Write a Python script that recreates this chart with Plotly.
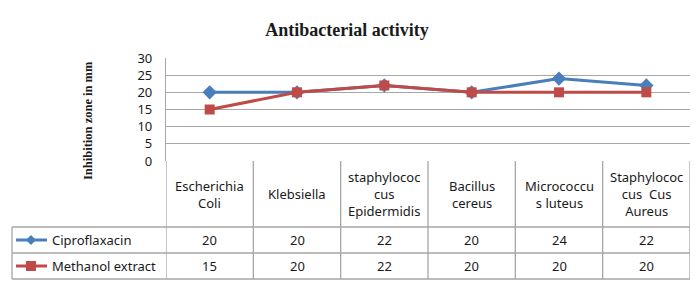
import plotly.graph_objects as go

# data
categories = ["Escherichia<br>Coli", "Klebsiella", "staphylococ<br>cus<br>Epidermidis",
              "Bacillus<br>cereus", "Micrococcu<br>s luteus", "Staphylococ<br>cus  Cus<br>Aureus"]
cipro = [20, 20, 22, 20, 24, 22]
methanol = [15, 20, 22, 20, 20, 20]
series_names = ["Ciproflaxacin", "Methanol extract"]

blue = "#4a7ebb"
red = "#be4b48"
grid = "#a6a6a6"
txt = "#1a1a1a"
table_font = dict(family="Noto Sans, Open Sans, sans-serif", size=13, color=txt)

# page body has an 8px margin, so reference pixel positions are shifted by OFF
OFF = 8
W, H = 700 - OFF, 293 - OFF
# plot area in reference pixels: x 166..690, y 58..161
L, R, T, B = 166, 690, 58, 161


def px(x):
    return (x - L) / (R - L)


def py(y):
    return (B - y) / (B - T)


xs = list(range(len(categories)))

fig = go.Figure()
fig.add_trace(go.Scatter(x=xs, y=cipro, name=series_names[0], mode="lines+markers",
                         line=dict(color=blue, width=3),
                         marker=dict(symbol="diamond", size=11, color=blue)))
fig.add_trace(go.Scatter(x=xs, y=methanol, name=series_names[1], mode="lines+markers",
                         line=dict(color=red, width=3),
                         marker=dict(symbol="square", size=10, color=red)))

shapes = []
line_style = dict(color=grid, width=1.3)
# horizontal table lines
for yy, x0 in [(227, 12), (253, 12), (279, 12)]:
    shapes.append(dict(type="line", xref="paper", yref="paper", x0=px(x0), x1=1,
                       y0=py(yy), y1=py(yy), line=line_style))
# vertical table lines at category boundaries
for i in range(len(categories) + 1):
    shapes.append(dict(type="line", xref="x", yref="paper", x0=i - 0.5, x1=i - 0.5,
                       y0=0, y1=py(279), line=line_style))
# left border of the legend column
shapes.append(dict(type="line", xref="paper", yref="paper", x0=px(12), x1=px(12),
                   y0=py(227), y1=py(279), line=line_style))

# legend keys inside table
for yy, col, sym in [(240, blue, "diamond"), (266, red, "square")]:
    shapes.append(dict(type="line", xref="paper", yref="paper", x0=px(16), x1=px(47),
                       y0=py(yy), y1=py(yy), line=dict(color=col, width=3)))
    cx, cy = 31, yy
    if sym == "diamond":
        d = 5
        path = (f"M {px(cx)},{py(cy - d)} L {px(cx + d)},{py(cy)} "
                f"L {px(cx)},{py(cy + d)} L {px(cx - d)},{py(cy)} Z")
    else:
        d = 5
        path = (f"M {px(cx - d)},{py(cy - d)} L {px(cx + d)},{py(cy - d)} "
                f"L {px(cx + d)},{py(cy + d)} L {px(cx - d)},{py(cy + d)} Z")
    shapes.append(dict(type="path", xref="paper", yref="paper", path=path,
                       fillcolor=col, line=dict(color=col, width=0)))

annotations = []
# category headers
for i, c in enumerate(categories):
    annotations.append(dict(x=i, y=py(194), xref="x", yref="paper", text=c,
                            showarrow=False, font=table_font, align="center",
                            xanchor="center", yanchor="middle"))
# values rows
for row_y, vals in [(240, cipro), (266, methanol)]:
    for i, v in enumerate(vals):
        annotations.append(dict(x=i, y=py(row_y), xref="x", yref="paper", text=str(v),
                                showarrow=False, font=table_font,
                                xanchor="center", yanchor="middle"))
# series names
for row_y, nm in [(240, series_names[0]), (266, series_names[1])]:
    annotations.append(dict(x=px(50), y=py(row_y), xref="paper", yref="paper", text=nm,
                            showarrow=False, font=table_font,
                            xanchor="left", yanchor="middle"))
# y axis title
annotations.append(dict(x=px(88), y=py(121), xref="paper", yref="paper",
                        text="<b>Inhibition zone in mm</b>", textangle=-90,
                        showarrow=False,
                        font=dict(family="Liberation Serif, serif", size=12.5, color=txt),
                        xanchor="center", yanchor="middle"))

fig.update_layout(
    width=W, height=H,
    margin=dict(l=L - OFF, r=700 - R, t=T - OFF, b=293 - B, pad=0),
    paper_bgcolor="white", plot_bgcolor="white",
    showlegend=False,
    title=dict(text="<b>Antibacterial activity</b>", x=(347 - OFF) / W, xanchor="center",
               y=1 - (30 - OFF) / H, yanchor="middle", xref="container", yref="container",
               font=dict(family="Liberation Serif, serif", size=18, color=txt)),
    shapes=shapes,
    annotations=annotations,
)
fig.update_xaxes(range=[-0.5, len(categories) - 0.5], showticklabels=False,
                 showgrid=False, zeroline=False, showline=False, fixedrange=True)
fig.update_yaxes(range=[0, 30], dtick=5, showgrid=True, gridcolor=grid, gridwidth=1.3,
                 zeroline=False, showline=True, linecolor=grid, linewidth=1.3,
                 ticks="", ticklabelstandoff=10,
                 tickfont=dict(family="Noto Sans, Open Sans, sans-serif", size=13, color=txt))

fig.write_html("out.html")
